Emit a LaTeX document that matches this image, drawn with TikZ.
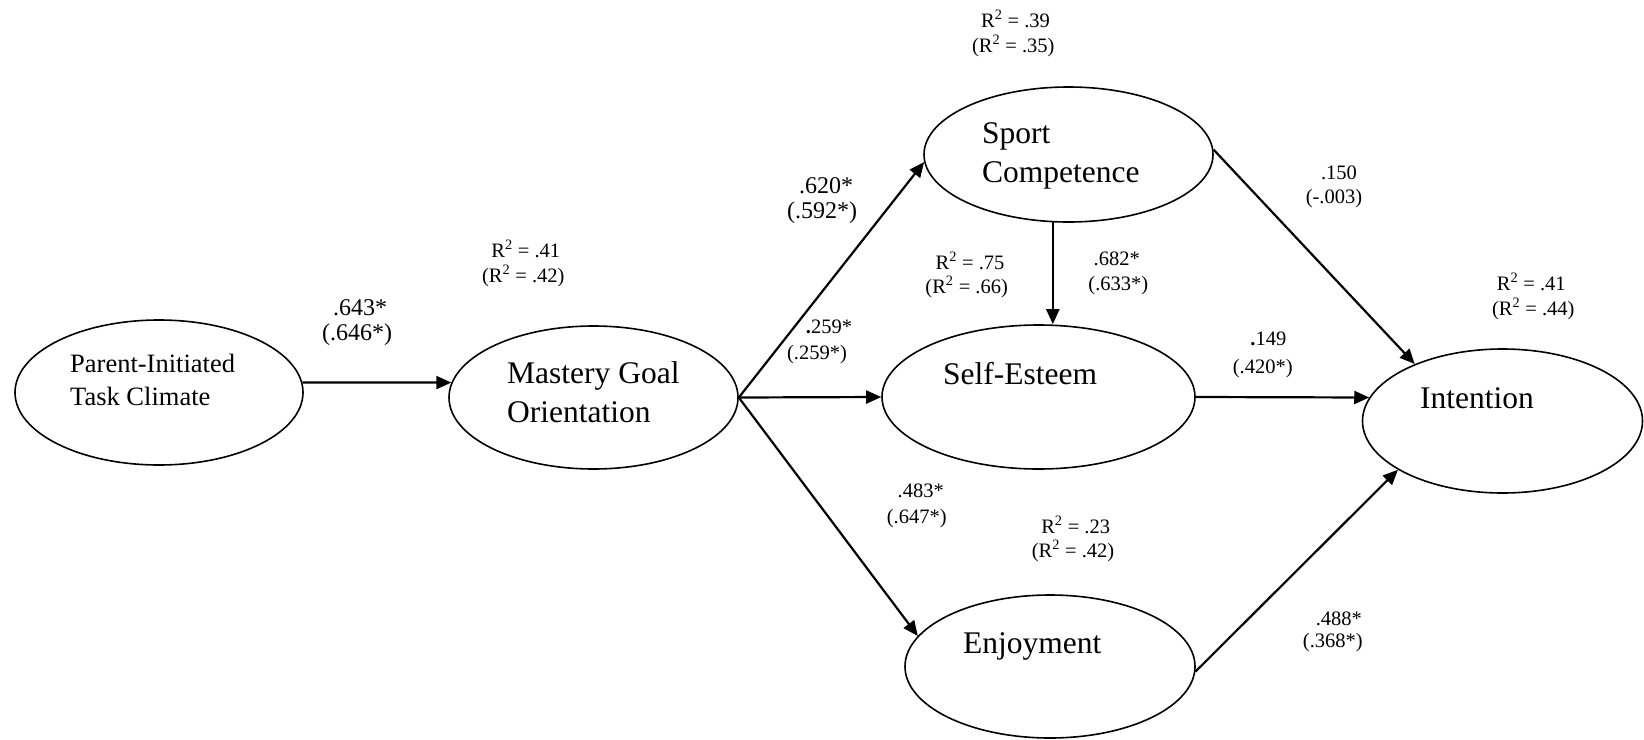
\documentclass[tikz,border=0pt]{standalone}
\usepackage{fontspec}
\setmainfont{Liberation Serif}
\usetikzlibrary{shapes.geometric,arrows.meta}
\newcommand{\Rsq}{R\textsuperscript{2}}
\begin{document}
\begin{tikzpicture}[x=1pt,y=-1pt,
  latent/.style={draw,ellipse,line width=1.6pt,inner sep=0pt},
  big/.style={anchor=base west,inner sep=0pt,font=\fontsize{31.5}{38}\selectfont},
  mid/.style={anchor=base west,inner sep=0pt,font=\fontsize{26.5}{32}\selectfont},
  lab/.style={anchor=base,inner sep=0pt,font=\fontsize{20.5}{25}\selectfont},
  labbig/.style={anchor=base,inner sep=0pt,font=\fontsize{24}{29}\selectfont},
  conn/.style={line width=2.2pt,-{Triangle[length=15pt,width=13pt]}}
]
\useasboundingbox (0,0) rectangle (1644,739);
% latent variables
\node[latent,minimum width=288pt,minimum height=145pt] (pitc) at (159,392.5) {};
\node[latent,minimum width=289pt,minimum height=143pt] (mgo) at (593.5,397.5) {};
\node[latent,minimum width=289pt,minimum height=135pt] (sc) at (1068.5,154.5) {};
\node[latent,minimum width=313pt,minimum height=144pt] (se) at (1038.5,397) {};
\node[latent,minimum width=290pt,minimum height=143pt] (enj) at (1050,666.5) {};
\node[latent,minimum width=280pt,minimum height=144pt] (int) at (1502.5,421) {};
% names
\node[mid] (t1a) at (70,372) {Parent-Initiated};
\node[mid] (t1b) at (70,405) {Task Climate};
\node[big] (t2a) at (507,383) {Mastery Goal};
\node[big] (t2b) at (507,422) {Orientation};
\node[big] (t3a) at (982,143) {Sport};
\node[big] (t3b) at (982,182) {Competence};
\node[big] (t4) at (943,384) {Self-Esteem};
\node[big] (t5) at (1420,408) {Intention};
\node[big] (t6) at (963,653) {Enjoyment};
% R squared labels
\node[lab] (r1a) at (1015.5,27) {\Rsq{} = .39};
\node[lab] (r1b) at (1013.3,52) {(\Rsq{} = .35)};
\node[lab] (r2a) at (525.8,257) {\Rsq{} = .41};
\node[lab] (r2b) at (523.3,282) {(\Rsq{} = .42)};
\node[lab] (r3a) at (970,269.3) {\Rsq{} = .75};
\node[lab] (r3b) at (966.7,293.3) {(\Rsq{} = .66)};
\node[lab] (r4a) at (1531.3,290) {\Rsq{} = .41};
\node[lab] (r4b) at (1533.3,315) {(\Rsq{} = .44)};
\node[lab] (r5a) at (1075.7,533) {\Rsq{} = .23};
\node[lab] (r5b) at (1073,557.5) {(\Rsq{} = .42)};
% path coefficients
\node[labbig] (c1a) at (360,315) {.643*};
\node[labbig] (c1b) at (357,340) {(.646*)};
\node[labbig] (c2a) at (826,193) {.620*};
\node[labbig] (c2b) at (822,218) {(.592*)};
\node[lab] (c3a) at (829,333) {\textbf{.}259*};
\node[lab] (c3b) at (817,359) {(.259*)};
\node[lab] (c4a) at (920.8,497) {.483*};
\node[lab] (c4b) at (916.7,523) {(.647*)};
\node[lab] (c5a) at (1116.7,265) {.682*};
\node[lab] (c5b) at (1118.3,290) {(.633*)};
\node[lab] (c6a) at (1339,179) {.150};
\node[lab] (c6b) at (1334,203) {(-.003)};
\node[lab] (c7a) at (1268.3,345) {\textbf{.}149};
\node[lab] (c7b) at (1262.7,373) {(.420*)};
\node[lab] (c8a) at (1338.8,625) {.488*};
\node[lab] (c8b) at (1332.8,647) {(.368*)};
% connectors
\draw[conn] (pitc.4) -- (mgo.174);
\draw[conn] (mgo.east) -- (sc.183);
\draw[conn] (mgo.east) -- (se.west);
\draw[conn] (mgo.east) -- (enj.167);
\draw[conn] (sc.257) -- (sc.257 |- se.north);
\draw[conn] (sc.2) -- (int.147);
\draw[conn] (se.east) -- (int.170);
\draw[conn] (enj.-2) -- (int.205);
\end{tikzpicture}
\end{document}
